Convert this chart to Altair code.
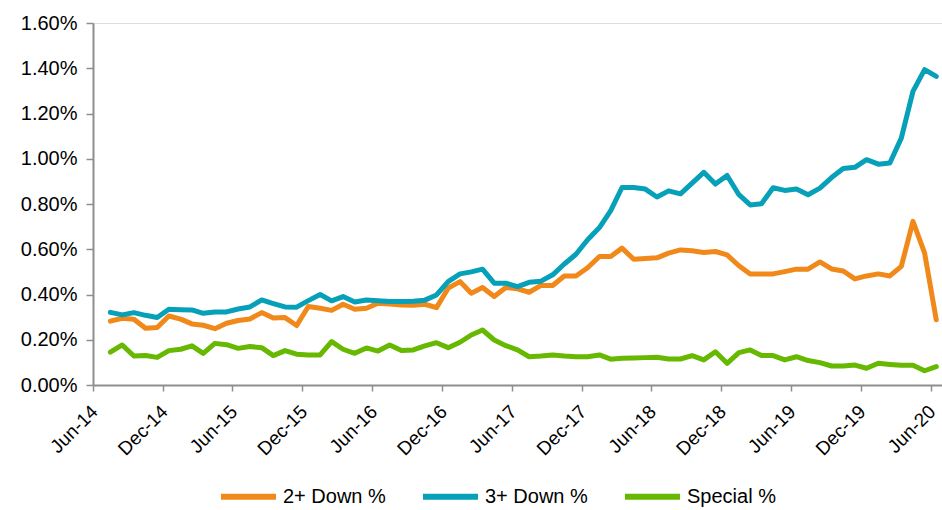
import altair as alt
import pandas as pd

# Monthly observations, Jul-2014 .. Jun-2020
months = [f"{y}-{m:02d}-01T00:00:00" for y in range(2014, 2021) for m in range(1, 13)
          if (y, m) >= (2014, 7) and (y, m) <= (2020, 6)]

down2 = [0.282, 0.295, 0.291, 0.251, 0.254, 0.305, 0.291, 0.270, 0.264, 0.249, 0.273, 0.285,
         0.292, 0.320, 0.296, 0.298, 0.263, 0.347, 0.339, 0.330, 0.357, 0.335, 0.339, 0.361,
         0.358, 0.354, 0.353, 0.357, 0.342, 0.428, 0.457, 0.406, 0.431, 0.391, 0.431, 0.425,
         0.410, 0.440, 0.440, 0.482, 0.482, 0.518, 0.568, 0.568, 0.605, 0.556, 0.559, 0.562,
         0.583, 0.597, 0.593, 0.586, 0.590, 0.575, 0.527, 0.491, 0.491, 0.491, 0.501, 0.512,
         0.512, 0.544, 0.513, 0.504, 0.469, 0.482, 0.491, 0.482, 0.524, 0.723, 0.583, 0.288]

down3 = [0.321, 0.310, 0.320, 0.308, 0.298, 0.335, 0.333, 0.332, 0.317, 0.323, 0.323, 0.336,
         0.345, 0.376, 0.360, 0.345, 0.344, 0.373, 0.400, 0.372, 0.391, 0.367, 0.376, 0.372,
         0.369, 0.369, 0.370, 0.375, 0.398, 0.457, 0.491, 0.500, 0.512, 0.450, 0.450, 0.435,
         0.454, 0.459, 0.487, 0.535, 0.578, 0.642, 0.696, 0.771, 0.873, 0.873, 0.866, 0.831,
         0.858, 0.845, 0.892, 0.940, 0.888, 0.926, 0.841, 0.796, 0.801, 0.872, 0.860, 0.866,
         0.841, 0.870, 0.917, 0.957, 0.962, 0.996, 0.976, 0.981, 1.091, 1.298, 1.394, 1.364]

special = [0.145, 0.177, 0.128, 0.130, 0.122, 0.152, 0.158, 0.173, 0.140, 0.184, 0.178, 0.162,
           0.170, 0.165, 0.130, 0.152, 0.136, 0.133, 0.133, 0.192, 0.158, 0.140, 0.164, 0.150,
           0.177, 0.152, 0.155, 0.173, 0.187, 0.165, 0.189, 0.221, 0.243, 0.199, 0.174, 0.155,
           0.125, 0.128, 0.133, 0.128, 0.125, 0.125, 0.133, 0.114, 0.118, 0.119, 0.121, 0.123,
           0.115, 0.115, 0.130, 0.111, 0.147, 0.096, 0.143, 0.155, 0.130, 0.130, 0.111, 0.125,
           0.108, 0.099, 0.084, 0.084, 0.088, 0.074, 0.096, 0.091, 0.087, 0.087, 0.063, 0.081]

series_names = ["2+ Down %", "3+ Down %", "Special %"]
series_colors = ["#F0891A", "#06A0B8", "#66B800"]
y_ticks = [0.0, 0.002, 0.004, 0.006, 0.008, 0.010, 0.012, 0.014, 0.016]

rows = []
for name, vals in zip(series_names, [down2, down3, special]):
    for m, v in zip(months, vals):
        rows.append({"month": m, "series": name, "value": v / 100.0})
df = pd.DataFrame(rows)

tick_dates = [alt.DateTime(year=y, month=mo, date=1)
              for y in range(2014, 2021) for mo in (6, 12)
              if not (y == 2020 and mo == 12)]

FONT = "Liberation Sans"
AXIS_GRAY = "#8E8E8E"

chart = alt.Chart(df).mark_line(strokeWidth=5, strokeJoin="round", strokeCap="round").encode(
    x=alt.X("month:T", timeUnit="yearmonth", bandPosition=0.5, title=None,
            scale=alt.Scale(domain=[alt.DateTime(year=2014, month=6, date=1),
                                    alt.DateTime(year=2020, month=7, date=1)]),
            axis=alt.Axis(values=tick_dates, format="%b-%y", labelAngle=-45,
                          labelOffset=-5, labelPadding=11, grid=False,
                          tickSize=6, tickColor=AXIS_GRAY, tickWidth=1.5,
                          domainColor=AXIS_GRAY, domainWidth=2,
                          labelFont=FONT, labelFontSize=19, labelColor="#000000")),
    y=alt.Y("value:Q", title=None,
            scale=alt.Scale(domain=[0, 0.016], nice=False),
            axis=alt.Axis(values=y_ticks, format=".2%", grid=False,
                          tickSize=7, tickColor=AXIS_GRAY, tickWidth=1.5,
                          domainColor=AXIS_GRAY, domainWidth=2, labelPadding=9,
                          labelFont=FONT, labelFontSize=20, labelColor="#000000")),
    color=alt.Color("series:N", title=None,
                    scale=alt.Scale(domain=series_names, range=series_colors),
                    legend=alt.Legend(orient="none", direction="horizontal",
                                      legendX=125, legendY=443,
                                      symbolType="stroke", symbolSize=3025,
                                      symbolStrokeWidth=6, labelOffset=4,
                                      columnPadding=25,
                                      labelFont=FONT, labelFontSize=20,
                                      labelColor="#000000")),
).properties(
    width=849, height=362,
    autosize="none",
    padding={"left": 93, "top": 23, "right": 0, "bottom": 125},
).configure_view(stroke=None).configure(background="white")

chart.save("out.html", embed_options={"renderer": "svg", "actions": False})
